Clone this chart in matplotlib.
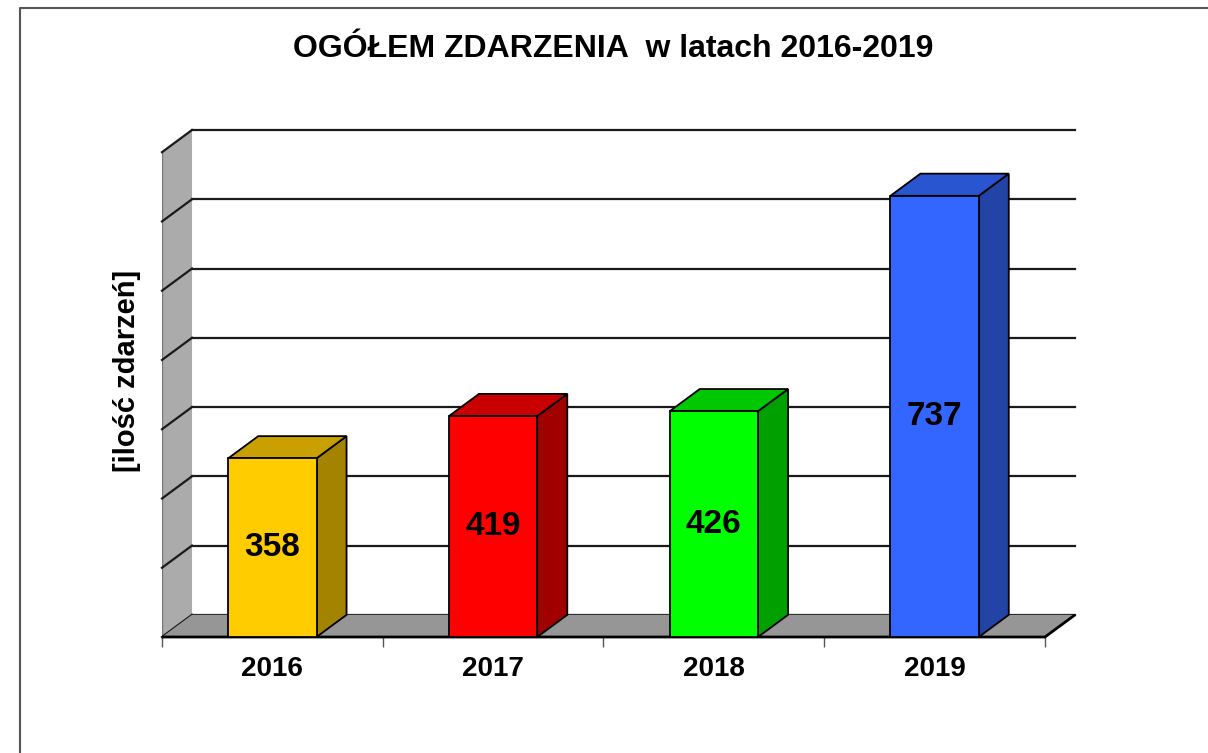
import numpy as np
import matplotlib
matplotlib.use('Agg')
import matplotlib.pyplot as plt
from matplotlib.patches import Polygon
from matplotlib.lines import Line2D

plt.rcParams['font.family'] = ['Liberation Sans', 'DejaVu Sans']

YEARS  = ['2016', '2017', '2018', '2019']
VALUES = [358, 419, 426, 737]
FRONT  = ['#FFCC00', '#FF0000', '#00FF00', '#3366FF']
TOP    = ['#C9A000', '#C80000', '#00C800', '#2A55D0']
SIDE   = ['#A38300', '#A00000', '#00A000', '#2244A6']

Y_MIN, Y_MAX, Y_STEP = 100, 800, 100
DX, DY = 0.136, 32      # depth offset (x units, value units)
BAR_W  = 0.4

fig = plt.figure(figsize=(12.08, 7.53), dpi=100)
ax = fig.add_axes([162/1208, 116/753, 913/1208, 507/753])
n = len(VALUES)
x = np.arange(n)
x0, x1 = -0.5, n - 0.5
ax.set_xlim(x0, x1 + DX)
ax.set_ylim(Y_MIN, Y_MAX + DY)
for s in ax.spines.values():
    s.set_visible(False)

grid_vals = np.arange(Y_MIN, Y_MAX + 1, Y_STEP)

# left wall
ax.add_patch(Polygon([(x0, Y_MIN), (x0 + DX, Y_MIN + DY), (x0 + DX, Y_MAX + DY), (x0, Y_MAX)],
                     closed=True, facecolor='#ABABAB', edgecolor='none', zorder=1))
ax.plot([x0, x0], [Y_MIN, Y_MAX], color='#777777', lw=1, zorder=2)

# back wall gridlines + left wall diagonals
for g in grid_vals:
    ax.plot([x0 + DX, x1 + DX], [g + DY, g + DY], color='#1a1a1a', lw=1.6, zorder=2, clip_on=False)
    ax.plot([x0, x0 + DX], [g, g + DY], color='#1a1a1a', lw=1.6, zorder=2, clip_on=False)

# floor
ax.add_patch(Polygon([(x0, Y_MIN), (x1, Y_MIN), (x1 + DX, Y_MIN + DY), (x0 + DX, Y_MIN + DY)],
                     closed=True, facecolor='#969696', edgecolor='none', zorder=2))
ax.plot([x0, x1, x1 + DX], [Y_MIN, Y_MIN, Y_MIN + DY], color='black', lw=2, zorder=3,
        solid_capstyle='butt', clip_on=False)

# bars
for i, v in enumerate(VALUES):
    l, r = x[i] - BAR_W / 2, x[i] + BAR_W / 2
    ax.add_patch(Polygon([(r, Y_MIN), (r + DX, Y_MIN + DY), (r + DX, v + DY), (r, v)],
                         closed=True, facecolor=SIDE[i], edgecolor='black', lw=1.3, zorder=4))
    ax.add_patch(Polygon([(l, v), (l + DX, v + DY), (r + DX, v + DY), (r, v)],
                         closed=True, facecolor=TOP[i], edgecolor='black', lw=1.3, zorder=4))
ax.bar(x, np.array(VALUES) - Y_MIN, bottom=Y_MIN, width=BAR_W, color=FRONT,
       edgecolor='black', lw=1.3, zorder=5)
for i, v in enumerate(VALUES):
    ax.text(x[i], (v + Y_MIN) / 2, str(v), ha='center', va='center',
            fontsize=24, fontweight='bold', color='black', zorder=6)

# ticks
ax.set_yticks([])
ax.set_xticks(x)
ax.set_xticklabels(YEARS, fontsize=20, fontweight='bold')
ax.set_xticks(np.arange(x0, x1 + 0.01, 1), minor=True)
ax.tick_params(axis='x', which='major', length=0, pad=14)
ax.tick_params(axis='x', which='minor', length=7, width=1, color='#555555')

fig.text(613/1208, 1 - 49/753, 'OGÓŁEM ZDARZENIA  w latach 2016-2019',
         ha='center', va='center', fontsize=23, fontweight='bold')
fig.text(127/1208, 1 - 371/753, '[ilość zdarzeń]', ha='center', va='center',
         rotation=90, fontsize=21, fontweight='bold')

# outer frame (top and left only visible)
fig.add_artist(Line2D([20/1208, 20/1208, 1.0], [0.0, 1 - 8/753, 1 - 8/753],
                      transform=fig.transFigure, color='#555555', lw=1.5))

fig.savefig('out.png', dpi=100)
